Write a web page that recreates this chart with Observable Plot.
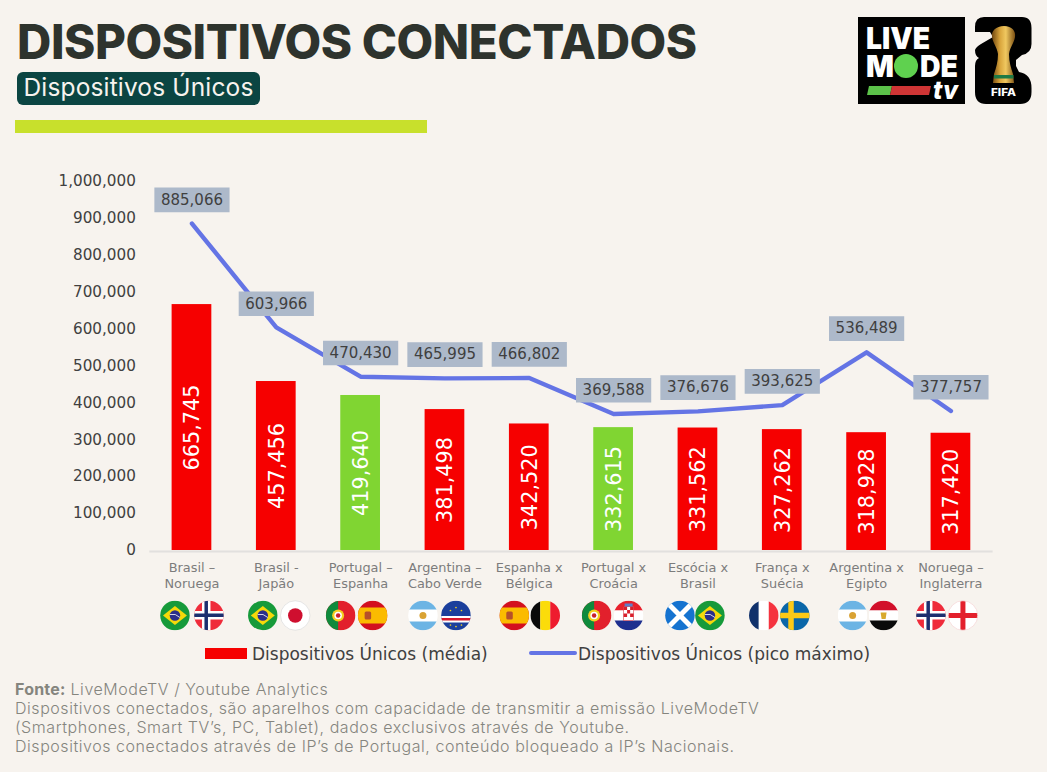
<!DOCTYPE html>
<html lang="pt">
<head>
<meta charset="utf-8">
<script src="https://cdn.jsdelivr.net/npm/d3@7"></script>
<script src="https://cdn.jsdelivr.net/npm/@observablehq/plot@0.6"></script>
<style>
  html,body{margin:0;padding:0;background:#f7f3ee;}
  body{position:relative;width:1047px;height:772px;overflow:hidden;}
  .abs{position:absolute;white-space:nowrap;}
  #title{left:17px;top:12px;font:800 47.5px/60px Inter,sans-serif;color:#2e332d;letter-spacing:-.45px;}
  #pill{left:17px;top:72px;width:243px;height:33px;background:#0b4542;border-radius:6px;color:#f7f3ee;
        font:400 24.5px/31px Inter,sans-serif;text-align:center;letter-spacing:.15px;}
  #rule{left:15px;top:120px;width:412px;height:13px;background:#c8e02c;}
  #plot{left:0;top:140px;}
  .lg{font:17px "DejaVu Sans",sans-serif;color:#404040;line-height:20px;}
  #caption{left:15px;top:680px;font:300 16px/19px Inter,sans-serif;color:#85857e;letter-spacing:.55px;}
  #caption b{font-weight:700;letter-spacing:.2px;}
</style>
</head>
<body>
<div class="abs" id="title">DISPOSITIVOS CONECTADOS</div>
<div class="abs" id="pill">Dispositivos Únicos</div>
<div class="abs" id="rule"></div>

<svg class="abs" id="logo" style="left:850px;top:10px" width="190" height="100" viewBox="850 10 190 100">
  <rect x="858" y="17" width="107" height="87" fill="#000"/>
  <text x="866" y="49" font-family="Inter,Roboto" font-weight="900" font-size="30.5" fill="#fff" textLength="64" lengthAdjust="spacingAndGlyphs">LIVE</text>
  <text x="866" y="77" font-family="Inter,Roboto" font-weight="900" font-size="30.5" fill="#fff" textLength="28" lengthAdjust="spacingAndGlyphs">M</text>
  <circle cx="906" cy="66" r="12" fill="#5fd14f"/>
  <text x="920" y="77" font-family="Inter,Roboto" font-weight="900" font-size="30.5" fill="#fff" textLength="38" lengthAdjust="spacingAndGlyphs">DE</text>
  <polygon points="869,86 892,86 890,95 867,95" fill="#5cc24a"/>
  <polygon points="892,86 931,86 929,95 890,95" fill="#cf3535"/>
  <text x="933" y="99" font-family="Inter,Roboto" font-style="italic" font-weight="800" font-size="25" fill="#fff" textLength="25" lengthAdjust="spacingAndGlyphs">tv</text>
  <path d="M984 17 H1022 Q1031.5 17 1031.5 28 V44 Q1031.5 53 1022 55 L1016 60 L1016 66 L1019 72 Q1031.5 74 1031.5 88 V92 Q1031.5 104 1020 104 H986 Q975 104 975 92 V66 Q975 60 979 58 Q975 56 975 50 Q976 47 981 44 L993 37 L990 32 H975 V27 Q975 17 984 17 Z" fill="#000"/>
  <defs><linearGradient id="gold" x1="0" x2="1"><stop offset="0" stop-color="#6f4610"/><stop offset=".35" stop-color="#d9a53c"/><stop offset=".6" stop-color="#f0c860"/><stop offset="1" stop-color="#7a4e12"/></linearGradient></defs>
  <path d="M1004 26 C1012 26 1016 31 1015 37 C1014 43 1010 47 1009 54 C1009 62 1011 68 1013 74 L1014 83 L993 83 L994 74 C996 68 998 62 998 54 C997 47 993 43 992 37 C991 31 996 26 1004 26Z" fill="url(#gold)"/>
  <rect x="994" y="75" width="19.5" height="3.5" fill="#1f7a45"/>
  <text x="1003.5" y="96" text-anchor="middle" font-family="Inter,Roboto" font-weight="800" font-size="10" fill="#fff" textLength="25" lengthAdjust="spacingAndGlyphs">FIFA</text>
</svg>

<div class="abs" id="plot"></div>

<svg class="abs" style="left:205px;top:648px" width="42" height="11"><rect width="42" height="11" fill="#f60000"/></svg>
<div class="abs lg" style="left:252px;top:644px">Dispositivos Únicos (média)</div>
<svg class="abs" style="left:528px;top:650px" width="50" height="6"><line x1="3" x2="47" y1="3" y2="3" stroke="#6474e5" stroke-width="4" stroke-linecap="round"/></svg>
<div class="abs lg" style="left:578px;top:644px">Dispositivos Únicos (pico máximo)</div>

<div class="abs" id="caption"><b>Fonte:</b> LiveModeTV / Youtube Analytics<br>
Dispositivos conectados, são aparelhos com capacidade de transmitir a emissão LiveModeTV<br>
(Smartphones, Smart TV’s, PC, Tablet), dados exclusivos através de Youtube.<br>
Dispositivos conectados através de IP’s de Portugal, conteúdo bloqueado a IP’s Nacionais.</div>

<script>
const matches = ["Brasil –\nNoruega","Brasil -\nJapão","Portugal –\nEspanha","Argentina –\nCabo Verde","Espanha x\nBélgica","Portugal x\nCroácia","Escócia x\nBrasil","França x\nSuécia","Argentina x\nEgipto","Noruega –\nInglaterra"];
const mediaValues = [665745,457456,419640,381498,342520,332615,331562,327262,318928,317420];
const picoValues  = [885066,603966,470430,465995,466802,369588,376676,393625,536489,377757];
const portugalGame = [false,false,true,false,false,true,false,false,false,false];
const teamsA = ["br","br","pt","ar","es","pt","sct","fr","ar","no"];
const teamsB = ["no","jp","es","cv","be","hr","br","se","eg","en"];
const yTicks = [0,100000,200000,300000,400000,500000,600000,700000,800000,900000,1000000];

// Layout only: horizontal nudges of the flag pairs from each category centre
const flagDx = [[-17,17],[-13.5,19],[-20,12],[-22,11],[-15,16],[-17,15],[-18,12],[-18.5,12.5],[-14,17],[-20,12]];

const emblem = (cx,cy,r,c)=>`<circle cx="${cx}" cy="${cy}" r="${r}" fill="${c}"/>`;
const flagArt = {
  br:`<rect width="60" height="60" fill="#169a3a"/><polygon points="30,11 54,30 30,49 6,30" fill="#f5d90a"/><circle cx="30" cy="30" r="10.5" fill="#2a2f8a"/><path d="M20 28 Q31 25 40 34" stroke="#fff" stroke-width="1.6" fill="none"/>`,
  no:`<rect width="60" height="60" fill="#ef2b3a"/><rect x="16" width="17" height="60" fill="#fff"/><rect y="21" width="60" height="17" fill="#fff"/><rect x="21" width="7" height="60" fill="#1d2f6f"/><rect y="26" width="60" height="7" fill="#1d2f6f"/>`,
  jp:`<rect width="60" height="60" fill="#fff"/><circle cx="30" cy="30" r="14.5" fill="#cf0f2f"/>`,
  pt:`<rect width="60" height="60" fill="#e2202c"/><rect width="25" height="60" fill="#0f8a3c"/>${emblem(25,30,12,"#f4d020")}${emblem(25,30,7.5,"#fff")}${emblem(25,30,4.5,"#c8202c")}`,
  es:`<rect width="60" height="60" fill="#d3101f"/><rect y="14" width="60" height="32" fill="#fbbb00"/><rect x="14" y="22" width="13" height="16" rx="3" fill="#b5502a"/>`,
  ar:`<rect width="60" height="60" fill="#fff"/><rect width="60" height="18" fill="#6cb4e4"/><rect y="42" width="60" height="18" fill="#6cb4e4"/>${emblem(30,30,7,"#d9a233")}`,
  cv:`<rect width="60" height="60" fill="#1b3f9c"/><rect y="31" width="60" height="13" fill="#fff"/><rect y="35" width="60" height="5" fill="#d6182c"/>${emblem(30,14,1.7,"#f4d020")}${emblem(19,20,1.7,"#f4d020")}${emblem(41,20,1.7,"#f4d020")}${emblem(30,52,1.7,"#f4d020")}${emblem(19,49,1.7,"#f4d020")}${emblem(41,49,1.7,"#f4d020")}`,
  be:`<rect width="20" height="60" fill="#0a0a0a"/><rect x="20" width="20" height="60" fill="#fbdc0a"/><rect x="40" width="20" height="60" fill="#ee1c2e"/>`,
  hr:`<rect width="60" height="20" fill="#e8202c"/><rect y="20" width="60" height="20" fill="#fff"/><rect y="40" width="60" height="20" fill="#1e2f8f"/><rect x="20" y="12" width="20" height="28" fill="#fff" stroke="#d8202c"/><rect x="20" y="12" width="7" height="7" fill="#d8202c"/><rect x="33" y="12" width="7" height="7" fill="#d8202c"/><rect x="27" y="19" width="6" height="7" fill="#d8202c"/><rect x="20" y="26" width="7" height="7" fill="#d8202c"/><rect x="33" y="26" width="7" height="7" fill="#d8202c"/><rect x="22" y="6" width="16" height="6" fill="#5c7fc8"/>`,
  sct:`<rect width="60" height="60" fill="#1573d0"/><path d="M2 2 L58 58 M58 2 L2 58" stroke="#fff" stroke-width="10"/>`,
  fr:`<rect width="20" height="60" fill="#10316b"/><rect x="20" width="20" height="60" fill="#fff"/><rect x="40" width="20" height="60" fill="#f5333f"/>`,
  se:`<rect width="60" height="60" fill="#0a66a8"/><rect x="17" width="11" height="60" fill="#fcc916"/><rect y="24.5" width="60" height="11" fill="#fcc916"/>`,
  eg:`<rect width="60" height="20" fill="#d2102a"/><rect y="20" width="60" height="20" fill="#fff"/><rect y="40" width="60" height="20" fill="#0a0a0a"/><path d="M24 24 L36 24 L34 37 L26 37Z" fill="#d8a92c"/>`,
  en:`<rect width="60" height="60" fill="#fff"/><rect x="25" width="10" height="60" fill="#e3202c"/><rect y="25" width="60" height="10" fill="#e3202c"/>`
};
const flagRim = {jp:"#ddd",en:"#f6d6d6"};
const flagSrc = code => "data:image/svg+xml," + encodeURIComponent(
  `<svg xmlns="http://www.w3.org/2000/svg" viewBox="0 0 62 62"><defs><clipPath id="c"><circle cx="30" cy="30" r="29.5"/></clipPath></defs>`+
  `<g transform="translate(1 1)"><g clip-path="url(#c)">${flagArt[code]}</g>`+
  (flagRim[code]?`<circle cx="30" cy="30" r="29.5" fill="none" stroke="${flagRim[code]}" stroke-width="1.5"/>`:"")+
  `</g></svg>`);

const rows = matches.map((m,i)=>({match:m,media:mediaValues[i],pico:picoValues[i],group:portugalGame[i]?"pt":"other"}));
const fmt = d3.format(",");
const tag = {draw(c){c.moveTo(-37.6,-12.3);c.lineTo(37.6,-12.3);c.lineTo(37.6,12.3);c.lineTo(-37.6,12.3);c.closePath();}};
const tagDy = -23.7;

const flagMarks = matches.flatMap((m,i)=>[teamsA[i],teamsB[i]].map((code,k)=>
  Plot.image([m],{x:d=>d,src:()=>flagSrc(code),frameAnchor:"bottom",dy:65,dx:flagDx[i][k],width:31,height:31})));

const chart = Plot.plot({
  width:1047, height:495,
  marginLeft:149.3, marginRight:54.4, marginTop:40.6, marginBottom:85,
  style:{background:"transparent",fontFamily:"'DejaVu Sans',sans-serif",overflow:"visible"},
  x:{domain:matches,paddingInner:.529,paddingOuter:.2645,round:false,label:null},
  y:{domain:[0,1000000],label:null},
  color:{domain:["other","pt"],range:["#f60000","#80d532"]},
  marks:[
    Plot.barY(rows,{x:"match",y:"media",fill:"group"}),
    Plot.ruleY([0],{stroke:"#e2e0de",strokeWidth:2,dy:1}),
    Plot.axisY({ticks:yTicks,tickFormat:fmt,tickSize:0,tickPadding:14,fontSize:15.2,color:"#404040",label:null,marginLeft:149.3}),
    Plot.axisX({tickSize:0,tickPadding:10,fontSize:12.9,lineHeight:1.25,color:"#7c7c7c",label:null,lineAnchor:"top"}),
    Plot.text(rows,{x:"match",y:d=>d.media/2,text:d=>fmt(d.media),rotate:-90,fill:"#fff",fontSize:20.8,dx:.8}),
    Plot.line(rows,{x:"match",y:"pico",stroke:"#6474e5",strokeWidth:4.4,strokeLinecap:"round",strokeLinejoin:"round"}),
    Plot.dot(rows,{x:"match",y:"pico",symbol:tag,dy:tagDy,fill:"#adb9ca",r:10}),
    Plot.text(rows,{x:"match",y:"pico",dy:tagDy,text:d=>fmt(d.pico),fill:"#404040",fontSize:15}),
    ...flagMarks
  ]
});
document.getElementById("plot").appendChild(chart);
</script>
</body>
</html>
